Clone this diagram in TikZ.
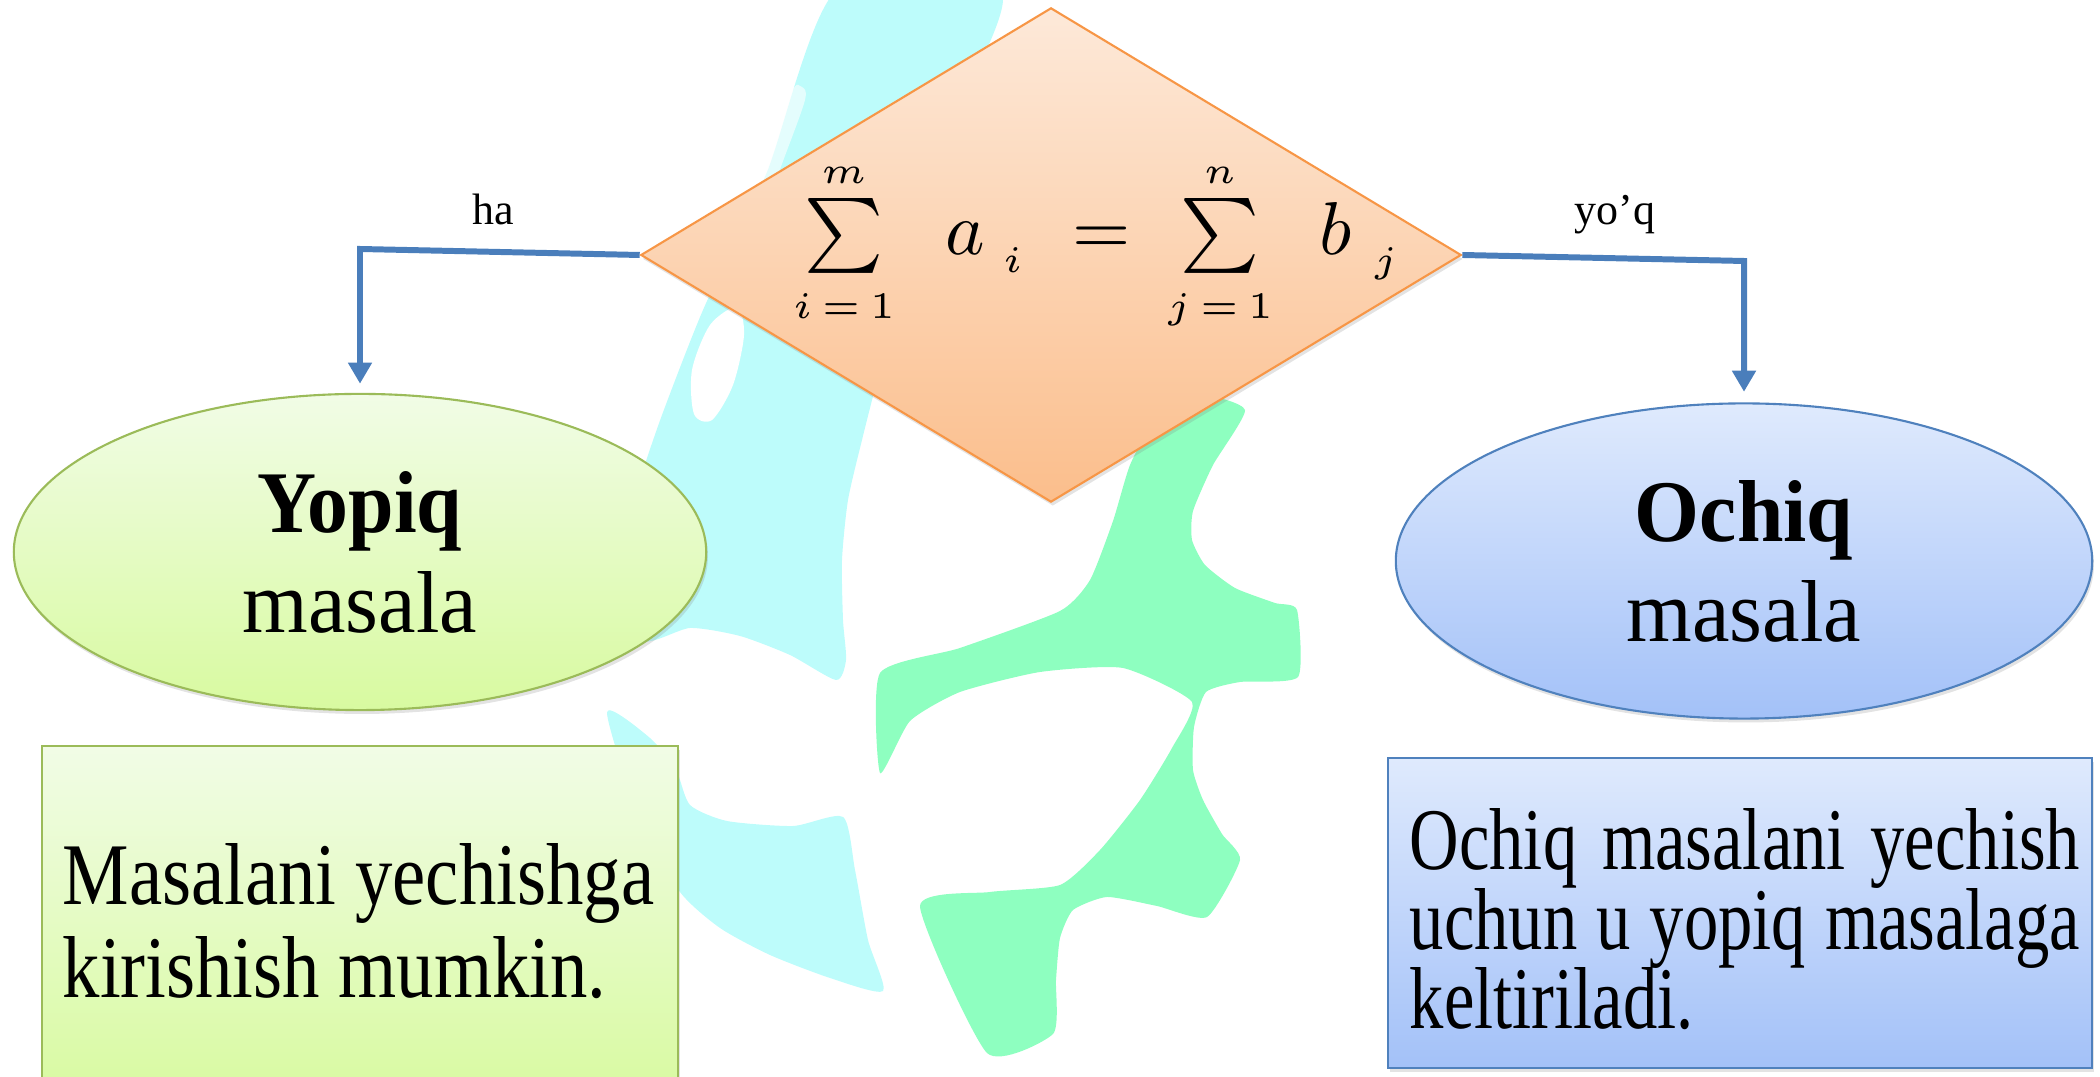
\documentclass[tikz,border=0pt]{standalone}
\usepackage{fontspec}
\setmainfont{Liberation Serif}
\usetikzlibrary{shapes.geometric,arrows.meta,shadows}
\definecolor{wmcyan}{HTML}{BDFCFB}
\definecolor{wmgreen}{HTML}{8EFFC0}
\definecolor{dtop}{HTML}{FDE9D9}
\definecolor{dbot}{HTML}{FBBE8C}
\definecolor{dline}{HTML}{F79646}
\definecolor{gtop}{HTML}{F1FCE6}
\definecolor{gbot}{HTML}{D8FAA0}
\definecolor{gline}{HTML}{9BBB59}
\definecolor{btop}{HTML}{DFEAFD}
\definecolor{bbot}{HTML}{A3C1F8}
\definecolor{bline}{HTML}{4F81BD}
\definecolor{arr}{HTML}{4A7EBB}
\begin{document}
\begin{tikzpicture}[x=0.01cm,y=-0.01cm,
  shd/.style={drop shadow={opacity=0.22,shadow xshift=0.5pt,shadow yshift=-1.1pt}},
  decision/.style={diamond,draw=dline,line width=0.6pt,top color=dtop,bottom color=dbot,
    inner sep=0,minimum width=8.2cm,minimum height=4.94cm,shd},
  greenell/.style={ellipse,draw=gline,line width=0.6pt,top color=gtop,bottom color=gbot,
    inner sep=0,minimum width=6.92cm,minimum height=3.16cm,align=center,
    font=\fontsize{25pt}{28.45pt}\selectfont,shd},
  blueell/.style={ellipse,draw=bline,line width=0.6pt,top color=btop,bottom color=bbot,
    inner sep=0,minimum width=6.96cm,minimum height=3.15cm,align=center,
    font=\fontsize{25pt}{28.45pt}\selectfont,shd},
  greenbox/.style={rectangle,draw=gline,line width=0.6pt,top color=gtop,bottom color=gbot,inner sep=0,shd},
  bluebox/.style={rectangle,draw=bline,line width=0.6pt,top color=btop,bottom color=bbot,inner sep=0,shd},
  boxtext/.style={anchor=base west,inner sep=0},
  lbl/.style={anchor=base,inner sep=0,font=\fontsize{12.5pt}{15pt}\selectfont},
  conn/.style={draw=arr,line width=1.7pt,-{Triangle[width=6.5pt,length=6pt]}}]
\useasboundingbox (0,0) rectangle (2100,1077);
\clip (0,0) rectangle (2100,1077);
% background watermark
\fill[wmcyan] plot[smooth cycle,tension=0.4] coordinates {(837,-10) (1000,-10) (965,100) (915,250) (880,370) (862,440) (848,500) (842,560) (843,620) (846,660) (836,680) (790,655) (740,636) (690,628) (640,640) (618,560) (640,480) (662,415) (703,310) (767,172)};
\fill[white] plot[smooth cycle,tension=0.5] coordinates {(737,307) (744,335) (733,385) (712,420) (694,414) (692,370) (710,325)};
\fill[white,opacity=0.6] plot[smooth cycle,tension=0.5] coordinates {(800,86) (805,100) (778,175) (762,226) (754,222) (768,160) (792,92)};
\fill[wmcyan] plot[smooth cycle,tension=0.4] coordinates {(607,712) (650,738) (676,770) (690,805) (727,821) (793,826) (843,817) (855,870) (868,940) (883,991) (830,978) (770,955) (720,928) (680,892) (640,820)};
\fill[wmgreen] plot[smooth cycle,tension=0.35] coordinates {(880,673) (960,648) (1060,611) (1090,580) (1113,521) (1130,465) (1155,420) (1200,395) (1245,410) (1213,465) (1193,511) (1192,540) (1205,565) (1235,588) (1275,603) (1297,610) (1298,677) (1240,682) (1206,692) (1194,727) (1193,770) (1203,800) (1222,834) (1240,860) (1207,917) (1157,906) (1107,897) (1073,910) (1060,938) (1056,980) (1053,1034) (987,1053) (920,906) (990,892) (1060,885) (1100,850) (1140,800) (1172,748) (1192,702) (1123,668) (1040,672) (960,692) (910,721) (880,773)};
% shapes
\node[decision] (dia) at (1051,255) {};
\node[anchor=base west,inner sep=0] (eq) at (792,255)
  {\scalebox{2.13}{$\sum\limits_{\scriptscriptstyle i\,=\,1}^{\scriptscriptstyle m}\hspace{0.18cm}a_{\hspace{0.08cm}\raisebox{-0.03cm}{$\scriptscriptstyle i$}}\hspace{0.12cm}=\hspace{0.07cm}\sum\limits_{\scriptscriptstyle j\,=\,1}^{\scriptscriptstyle n}\hspace{0.16cm}b_{\hspace{0.10cm}\raisebox{-0.03cm}{$\scriptscriptstyle j$}}$}};
\node[greenell] (yop) at (360,552) {\scalebox{0.93}[1]{\bfseries Yopiq}\\\scalebox{0.96}[1]{masala}};
\node[blueell] (och) at (1744,561) {\scalebox{0.95}[1]{\bfseries Ochiq}\\\scalebox{0.96}[1]{masala}};
\node[greenbox,minimum width=6.36cm,minimum height=3.55cm] (ybox) at (360,924) {};
\node[bluebox,minimum width=7.04cm,minimum height=3.10cm] (obox) at (1740,913) {};
\node[boxtext,font=\fontsize{25pt}{26.2pt}\selectfont] (ytxt) at (62,905)
  {\scalebox{0.85}[1]{\parbox[t]{7.2cm}{Masalani yechishga\\kirishish mumkin.}}};
\node[boxtext,font=\fontsize{25pt}{22.5pt}\selectfont] (otxt) at (1409,870)
  {\scalebox{0.78}[1]{\parbox[t]{8.59cm}{\lineskiplimit=-1cm \makebox[\linewidth][s]{Ochiq masalani yechish}\\\makebox[\linewidth][s]{uchun u yopiq masalaga}\\keltiriladi.}}};
% connectors
\coordinate (lc) at (360,249);
\coordinate (rc) at (1744,261);
\draw[conn,shorten >=2.6pt] (dia.west) -- (lc) -- (yop);
\draw[conn,shorten >=3pt] (dia.east) -- (rc) -- (och);
\node[lbl] (ha) at (493,225) {ha};
\node[lbl] (yq) at (1615,225) {yo’q};
\end{tikzpicture}
\end{document}
